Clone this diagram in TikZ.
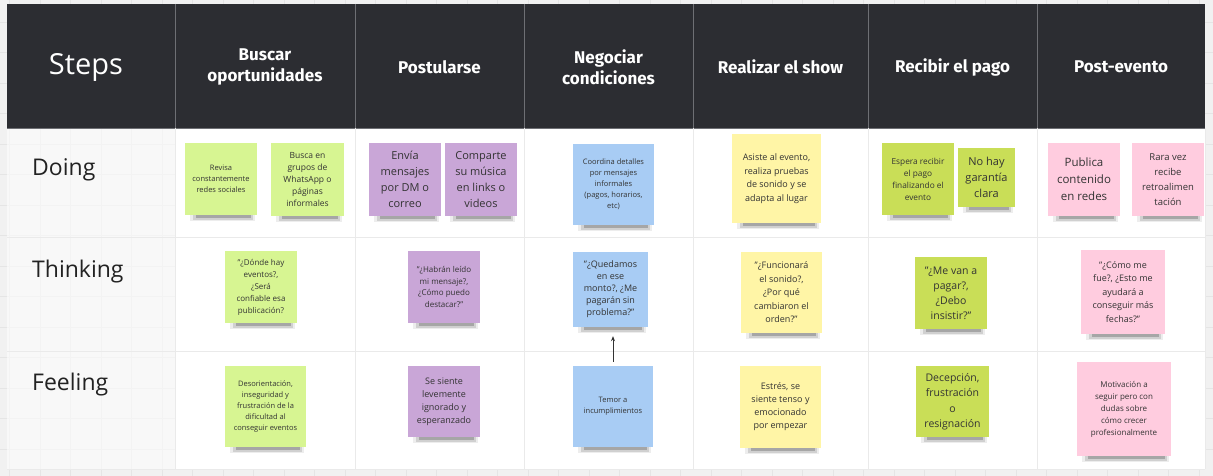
\documentclass[tikz,border=0pt]{standalone}
\usepackage{fontspec}
\setmainfont{Open Sans}
\newfontfamily\hdfont{Fira Sans}
\usetikzlibrary{arrows.meta}
\pgfdeclarelayer{bg}\pgfdeclarelayer{shd}
\pgfsetlayers{bg,shd,main}
\definecolor{canvas}{HTML}{F1F1F1}
\definecolor{gridc}{HTML}{E5E5E5}
\definecolor{cellline}{HTML}{EAEAEA}
\definecolor{hdfill}{HTML}{2C2D32}
\definecolor{hdline}{HTML}{6E6F74}
\definecolor{lgreen}{HTML}{D7F592}
\definecolor{dgreen}{HTML}{C9DE57}
\definecolor{purp}{HTML}{C9A6D7}
\definecolor{blue}{HTML}{A8CCF4}
\definecolor{yell}{HTML}{FFF5A6}
\definecolor{pink}{HTML}{FFCCDF}
\definecolor{notetext}{HTML}{333333}
\definecolor{labeltext}{HTML}{222222}
\newcommand\fsz[2]{\fontsize{#1}{#2}\selectfont}
\tikzset{
  note/.style={fill=#1, text=notetext, align=center, inner sep=1pt, minimum width=72, minimum height=72},
  hdtext/.style={text=white, align=center, font=\hdfont\bfseries\fsz{17}{21}},
  rowlabel/.style={anchor=west, inner sep=0pt, text=labeltext, font=\fsz{23}{27}},
  arrowline/.style={-{Stealth[length=5pt,width=4pt]}, line width=0.7pt, draw=notetext}
}
\begin{document}
\begin{tikzpicture}[x=1pt,y=-1pt]
\useasboundingbox (0,0) rectangle (1213,476);
\begin{pgfonlayer}{bg}
  \fill[canvas] (0,0) rectangle (1213,476);
  \foreach \x in {9.7,40.2,...,1213} \draw[gridc, line width=0.6pt] (\x,0) -- (\x,476);
  \foreach \y in {-8.5,22,...,476} \draw[gridc, line width=0.6pt] (0,\y) -- (1213,\y);
  % left column, translucent
  \fill[white, opacity=0.55] (7,128) rectangle (175,469);
  % white cells
  \fill[white] (175,128) rectangle (1205,469);
  % header
  \fill[hdfill] (7,4) rectangle (1205,128);
  \foreach \x in {175,355,524,693,868,1037}
    \draw[hdline, line width=0.8pt] (\x,4) -- (\x,128);
  \draw[hdline, line width=0.8pt] (7,128) -- (1205,128);
  % body lines
  \foreach \x in {175,355,524,693,868,1037,1205}
    \draw[cellline, line width=0.8pt] (\x,128) -- (\x,469);
  \foreach \y in {237,351,469}
    \draw[cellline, line width=0.8pt] (7,\y) -- (1205,\y);
\end{pgfonlayer}

% header texts
\node[text=white, font=\fsz{29}{34}] (steps) at (86,67) {Steps};
\node[hdtext] (h1) at (265,67) {Buscar\\oportunidades};
\node[hdtext] (h2) at (439.5,67) {Postularse};
\node[hdtext] (h3) at (608.5,67) {Negociar\\condiciones};
\node[hdtext] (h4) at (780.5,67) {Realizar el show};
\node[hdtext] (h5) at (952.5,67) {Recibir el pago};
\node[hdtext] (h6) at (1121,67) {Post-evento};

% row labels
\node[rowlabel] (doing) at (32,170) {Doing};
\node[rowlabel] (thinking) at (32,272) {Thinking};
\node[rowlabel] (feeling) at (32,385) {Feeling};

% Doing row
\node[note=lgreen, font=\fsz{7.5}{11}] (n1) at (221,179) {Revisa\\constantemente\\redes sociales};
\node[note=lgreen, minimum width=73, minimum height=73, font=\fsz{8.5}{12}] (n2) at (307.5,179.5) {Busca en\\grupos de\\WhatsApp o\\páginas\\informales};
\node[note=purp, minimum height=73, font=\fsz{11}{16}] (n3) at (405,179.5) {Envía\\mensajes\\por DM o\\correo};
\node[note=purp, minimum height=73, font=\fsz{11}{16}] (n4) at (481,179.5) {Comparte\\su música\\en links o\\videos};
\node[note=blue, minimum width=81, minimum height=81, font=\fsz{7.5}{11}] (n5) at (613.5,184.5) {Coordina detalles\\por mensajes\\informales\\(pagos, horarios,\\etc)};
\node[note=yell, minimum width=89, minimum height=89, font=\fsz{9}{13.5}] (n6) at (776.5,178.5) {Asiste al evento,\\realiza pruebas\\de sonido y se\\adapta al lugar};
\node[note=dgreen, font=\fsz{8.3}{12}] (n7) at (918,179) {Espera recibir\\el pago\\finalizando el\\evento};
\node[note=dgreen, minimum width=57, minimum height=59, font=\fsz{11}{16}] (n8) at (986.5,177.5) {No hay\\garantía\\clara};
\node[note=pink, minimum height=73, font=\fsz{11.5}{17}] (n9) at (1084,179.5) {Publica\\contenido\\en redes};
\node[note=pink, minimum height=73, font=\fsz{9.5}{15}] (n10) at (1168,179.5) {Rara vez\\recibe\\retroalimen\\tación};

% Thinking row
\node[note=lgreen, font=\fsz{8}{12}] (n11) at (261,287) {"¿Dónde hay\\eventos?,\\¿Será\\confiable esa\\publicación?};
\node[note=purp, font=\fsz{8}{11.5}] (n12) at (444,287) {"¿Habrán leído\\mi mensaje?,\\¿Cómo puedo\\destacar?"};
\node[note=blue, minimum width=75, minimum height=75, font=\fsz{9}{12}] (n13) at (610.5,289.5) {"¿Quedamos\\en ese\\monto?, ¿Me\\pagarán sin\\problema?"};
\node[note=yell, minimum width=81, minimum height=81, font=\fsz{9}{13.5}] (n14) at (781.5,292.5) {"¿Funcionará\\el sonido?,\\¿Por qué\\cambiaron el\\orden?"};
\node[note=dgreen, font=\fsz{10.5}{15}] (n15) at (951,293) {"¿Me van a\\pagar?,\\¿Debo\\insistir?"};
\node[note=pink, minimum width=84, minimum height=84, font=\fsz{9}{13.5}] (n16) at (1123,292) {"¿Cómo me\\fue?, ¿Esto me\\ayudará a\\conseguir más\\fechas?"};

% Feeling row
\node[note=lgreen, minimum width=81, minimum height=81, font=\fsz{7.5}{11}] (n17) at (265.5,406.5) {Desorientación,\\inseguridad y\\frustración de la\\dificultad al\\conseguir eventos};
\node[note=purp, minimum height=71, font=\fsz{9}{13}] (n18) at (444,401.5) {Se siente\\levemente\\ignorado y\\esperanzado};
\node[note=blue, minimum width=80, minimum height=81, font=\fsz{7.5}{11}] (n19) at (613,406.5) {Temor a\\incumplimientos};
\node[note=yell, minimum width=81, minimum height=82, font=\fsz{9}{13}] (n20) at (780.5,407) {Estrés, se\\siente tenso y\\emocionado\\por empezar};
\node[note=dgreen, minimum width=73, minimum height=71, font=\fsz{10.5}{15.5}] (n21) at (952.5,401.5) {Decepción,\\frustración\\o\\resignación};
\node[note=pink, minimum width=94, minimum height=94, font=\fsz{8}{12}] (n22) at (1124,409) {Motivación a\\seguir pero con\\dudas sobre\\cómo crecer\\profesionalmente};

% shadows
\begin{pgfonlayer}{shd}
\foreach \n in {n1,n2,n3,n4,n5,n6,n7,n8,n9,n10,n11,n12,n13,n14,n15,n16,n17,n18,n19,n20,n21,n22} {
  \fill[black, opacity=0.07] ([xshift=5pt,yshift=2pt]\n.south west) rectangle ([xshift=-2pt,yshift=-6pt]\n.south east);
  \fill[black, opacity=0.12] ([xshift=8pt,yshift=2pt]\n.south west) rectangle ([xshift=-4pt,yshift=-4.5pt]\n.south east);
  \fill[black, opacity=0.2] ([xshift=11pt,yshift=2pt]\n.south west) rectangle ([xshift=-6pt,yshift=-3pt]\n.south east);
}
\end{pgfonlayer}

% arrow
\draw[arrowline, shorten <=4pt, shorten >=9pt] (n19.north) -- (n19.north |- n13.south);
\end{tikzpicture}
\end{document}
